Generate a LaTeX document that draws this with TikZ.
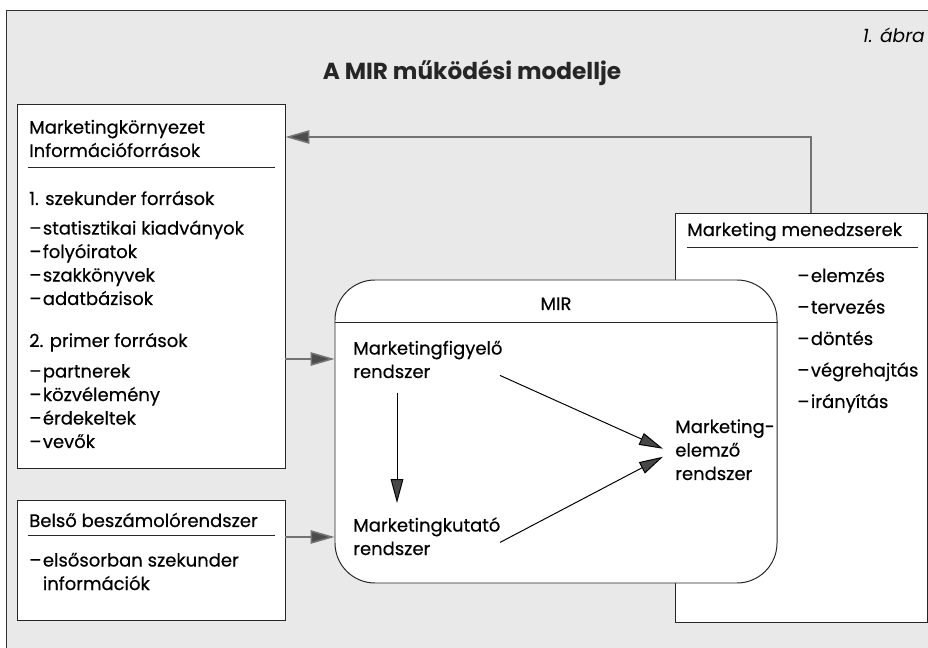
\documentclass[tikz,border=0pt]{standalone}
\usepackage{fontspec}
\setmainfont{Poppins}[UprightFeatures={FakeBold=0.4}]
\usetikzlibrary{arrows.meta,positioning,calc,fit}
\definecolor{paper}{HTML}{E9E9E9}
\newcommand{\bodyfont}{\fontsize{12.8}{16.7}\selectfont}
\newcommand{\dash}{–\kern1pt}
\tikzset{
    panel/.style={draw=black!85, line width=0.7pt, fill=white, inner sep=0pt},
    txt/.style={font=\bodyfont, inner sep=0pt, align=left, anchor=base west},
    widelist/.style={txt, font=\fontsize{12.8}{22.4}\selectfont},
    rule/.style={draw=black!85, line width=0.8pt},
    extarrow/.style={draw=black!55, line width=1.1pt,
        -{Triangle[length=17pt, width=9.5pt, fill=black!70]}},
    intarrow/.style={draw=black, line width=0.7pt,
        -{Triangle[length=17pt, width=9pt, fill=black!72]}},
    heading/.style={font=\fontsize{16.5}{20}\selectfont\bfseries, text=black!85, anchor=base},
}

\begin{document}
\begin{tikzpicture}[x=0.025cm, y=-0.025cm]
    \useasboundingbox (0,0) rectangle (928,648);

    % Page background and frame
    \fill[white] (0,0) rectangle (928,648);
    \fill[paper] (6,10) rectangle (928,648);
    \draw[black!80, line width=0.7pt] (6,648) -- (6,10) -- (928,10);

    % Caption and title
    \node[font=\fontsize{13.2}{15}\selectfont\itshape, anchor=base east, inner sep=0pt] (abra) at (925,43) {1. ábra};
    \node[heading] (title) at (472,80) {A MIR működési modellje};

    % Environment / sources box (base = last line)
    \node[panel, fit={(17,104) (285,468)}] (env) {};
    \node[txt] (envhead) at (29,157) {Marketingkörnyezet\\Információforrások};
    \draw[rule] ($(env.north west)+(11,64)$) -- ($(env.north east)+(-10,64)$);
    \node[txt] (sek) at (29,205) {1. szekunder források};
    \node[txt] (seklist) at (29,305) {\dash statisztikai kiadványok\\\dash folyóiratok\\\dash szakkönyvek\\\dash adatbázisok};
    \node[txt] (prim) at (29,347) {2. primer források};
    \node[txt] (primlist) at (29,448) {\dash partnerek\\\dash közvélemény\\\dash érdekeltek\\\dash vevők};

    % Internal reporting box
    \node[panel, fit={(17,500) (285,620)}] (belso) {};
    \node[txt] (belsohead) at (29,527) {Belső beszámolórendszer};
    \draw[rule] ($(belso.north west)+(11,36)$) -- ($(belso.north east)+(-10,36)$);
    \node[txt] (belsolist) at (29,590) {\dash elsősorban szekunder\\\phantom{\dash}információk};

    % Managers box
    \node[panel, fit={(675,213) (927,622)}] (mgr) {};
    \node[txt] (mgrhead) at (687,236) {Marketing menedzserek};
    \draw[rule] ($(mgr.north west)+(12,35)$) -- ($(mgr.north east)+(-10,35)$);
    \node[widelist] (mgrlist) at (797,408) {\dash elemzés\\\dash tervezés\\\dash döntés\\\dash végrehajtás\\\dash irányítás};

    % MIR box
    \node[panel, rounded corners=1cm, fit={(335,280) (777,583)}] (mir) {};
    \draw[rule] ($(mir.north west)+(0,43)$) -- ($(mir.north east)+(0,43)$);
    \node[txt, anchor=base] (mirlabel) at (556,310) {MIR};
    \node[txt] (fig) at (353,378) {Marketingfigyelő\\rendszer};
    \node[txt] (kut) at (353,555) {Marketingkutató\\rendszer};
    \node[txt] (elem) at (675,480) {Marketing-\\elemző\\rendszer};

    % Flows inside MIR
    \draw[intarrow] ($(fig.south west)+(44,15)$) -- ($(kut.north west)+(44,-14)$);
    \draw[intarrow] ($(fig.south west)+(147,-3)$) -- ($(elem.west)+(-12,-1)$);
    \draw[intarrow] ($(kut.south west)+(147,-13)$) -- ($(elem.west)+(-12,7)$);

    % Flows between boxes
    \coordinate (fb) at (811,137);
    \draw[extarrow] (fb |- mgr.north) -- (fb) -- (fb -| env.east);
    \coordinate (in1) at (0,359);
    \draw[extarrow] (in1 -| env.east) -- (in1 -| mir.west);
    \coordinate (in2) at (0,537);
    \draw[extarrow] (in2 -| belso.east) -- (in2 -| mir.west);
\end{tikzpicture}
\end{document}
